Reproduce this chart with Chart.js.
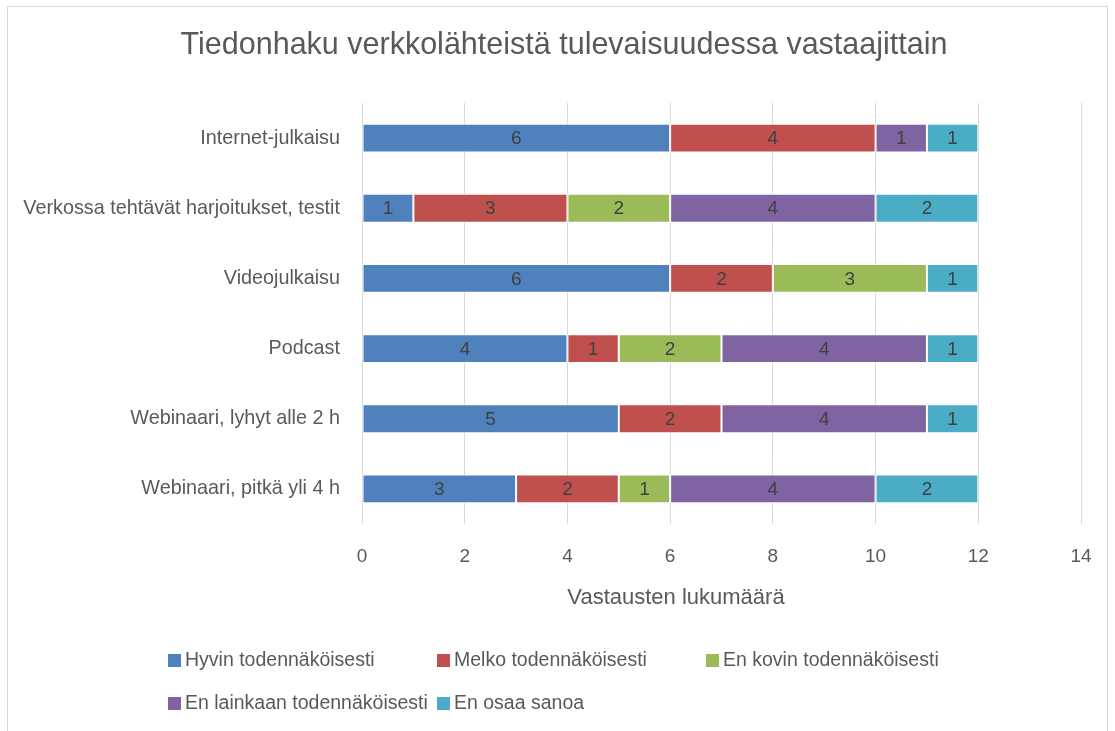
<!DOCTYPE html>
<html>
<head>
<meta charset="utf-8">
<script src="https://cdn.jsdelivr.net/npm/chart.js@4.4.1/dist/chart.umd.min.js"></script>
<style>
    body { margin: 0; background: #fff; }
    #wrap { position: relative; width: 1115px; height: 731px; }
    #frame { position: absolute; left: 7px; top: 6px; width: 1099px; height: 740px; border: 1px solid #d9d9d9; }
    canvas { position: absolute; left: 0; top: 0; }
</style>
</head>
<body>
<div id="wrap">
    <div id="frame"></div>
    <canvas id="chart" width="1115" height="731"></canvas>
</div>
<script>
const categories = [
    'Internet-julkaisu',
    'Verkossa tehtävät harjoitukset, testit',
    'Videojulkaisu',
    'Podcast',
    'Webinaari, lyhyt alle 2 h',
    'Webinaari, pitkä yli 4 h'
];
const seriesNames = [
    'Hyvin todennäköisesti',
    'Melko todennäköisesti',
    'En kovin todennäköisesti',
    'En lainkaan todennäköisesti',
    'En osaa sanoa'
];
const hyvin = [6, 1, 6, 4, 5, 3];
const melko = [4, 3, 2, 1, 2, 2];
const enKovin = [0, 2, 3, 2, 0, 1];
const enLainkaan = [1, 4, 0, 4, 4, 4];
const enOsaa = [1, 2, 1, 1, 1, 2];
const xTicks = [0, 2, 4, 6, 8, 10, 12, 14];
const chartTitle = 'Tiedonhaku verkkolähteistä tulevaisuudessa vastaajittain';
const xTitle = 'Vastausten lukumäärä';

const colors = ['#4f81bd', '#c0504d', '#9bbb59', '#8064a2', '#4bacc6'];
const FONT = "'Liberation Sans', Arial, sans-serif";
const TEXT = '#595959';

// numbers in the middle of each segment
const segmentLabels = {
    id: 'segmentLabels',
    afterDatasetsDraw(chart) {
        const ctx = chart.ctx;
        ctx.save();
        ctx.font = '19px ' + FONT;
        ctx.fillStyle = '#404040';
        ctx.textAlign = 'center';
        ctx.textBaseline = 'middle';
        chart.data.datasets.forEach((ds, i) => {
            const meta = chart.getDatasetMeta(i);
            meta.data.forEach((bar, j) => {
                const v = ds.data[j];
                if (!v) return;
                ctx.fillText(String(v), (bar.x + bar.base) / 2, bar.y + 1);
            });
        });
        ctx.restore();
    }
};

// title, axis title and legend placed like the original (legend is a fixed grid)
const extras = {
    id: 'extras',
    afterDraw(chart) {
        const ctx = chart.ctx;
        ctx.save();
        ctx.fillStyle = TEXT;
        ctx.textBaseline = 'middle';
        ctx.textAlign = 'center';
        ctx.font = '30.5px ' + FONT;
        ctx.fillText(chartTitle, 564, 46);
        ctx.font = '22px ' + FONT;
        ctx.fillText(xTitle, 676, 598);

        ctx.textAlign = 'left';
        ctx.font = '19.5px ' + FONT;
        const colX = [168, 437, 706];
        const rowY = [660, 703];
        chart.data.datasets.forEach((ds, i) => {
            const x = colX[i % 3];
            const y = rowY[Math.floor(i / 3)];
            ctx.fillStyle = ds.backgroundColor;
            ctx.fillRect(x, y - 6, 13, 13);
            ctx.fillStyle = TEXT;
            ctx.fillText(ds.label, x + 17, y + 1);
        });
        ctx.restore();
    }
};

const seriesData = [hyvin, melko, enKovin, enLainkaan, enOsaa];

new Chart(document.getElementById('chart'), {
    type: 'bar',
    data: {
        labels: categories,
        datasets: seriesNames.map((name, i) => ({
            label: name,
            data: seriesData[i],
            backgroundColor: colors[i],
            borderColor: '#ffffff',
            borderWidth: 1,
            borderSkipped: false,
            categoryPercentage: 1,
            barPercentage: 0.41
        }))
    },
    options: {
        indexAxis: 'y',
        responsive: false,
        animation: false,
        layout: { padding: { left: 0, right: 34, top: 103, bottom: 120 } },
        plugins: {
            legend: { display: false },
            tooltip: { enabled: false },
            title: { display: false }
        },
        scales: {
            x: {
                stacked: true,
                min: 0,
                max: 14,
                afterBuildTicks: (scale) => {
                    scale.ticks = xTicks.map(v => ({ value: v }));
                },
                afterFit: (scale) => { scale.height = 87; },
                grid: { color: '#d9d9d9', drawTicks: false, lineWidth: 1 },
                border: { display: false },
                ticks: { color: TEXT, font: { family: FONT, size: 19 }, padding: 21 }
            },
            y: {
                stacked: true,
                afterFit: (scale) => { scale.width = 362; },
                grid: { display: false },
                border: { display: false },
                ticks: { color: TEXT, font: { family: FONT, size: 19.8 }, padding: 14 }
            }
        }
    },
    plugins: [segmentLabels, extras]
});
</script>
</body>
</html>
